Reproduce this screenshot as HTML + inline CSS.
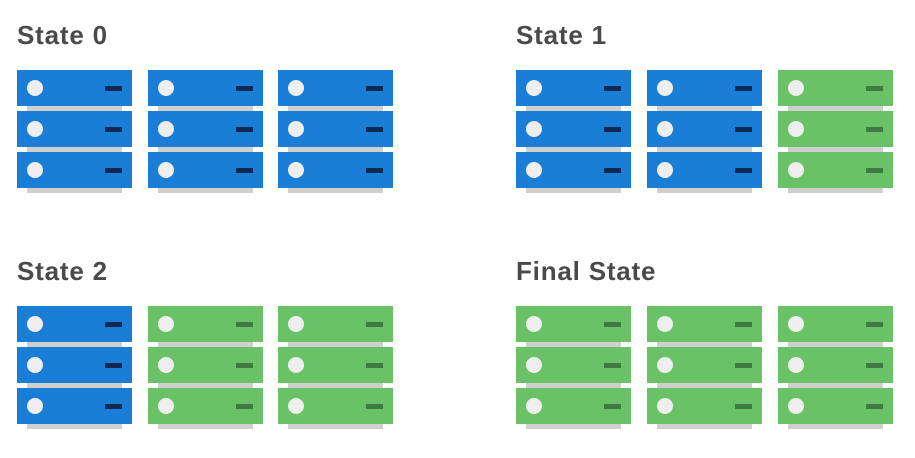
<!DOCTYPE html>
<html><head><meta charset="utf-8"><style>
body{margin:0;width:915px;height:458px;background:#fff;overflow:hidden;position:relative;font-family:"Liberation Sans",sans-serif}
.t{position:absolute;font-size:26px;font-weight:bold;color:#4a4a4a;letter-spacing:0.8px;line-height:30px}
.stack{position:absolute;width:115px;height:125px}
.sh{position:absolute;left:10px;width:95px;height:6px;background:#cfcfcf}
.u{position:absolute;left:0;width:115px;height:36px}
.u .c{position:absolute;left:10px;top:10px;width:16px;height:16px;border-radius:50%;background:#eee}
.u .d{position:absolute;left:88px;top:16px;width:17px;height:5px}
.b{background:#1a7dd6}.b .d{background:#0e2a52}
.g{background:#69c266}.g .d{background:#3e7a42}
</style></head><body>
<div class="t" style="left:17px;top:20px">State 0</div>
<div class="t" style="left:516px;top:20px">State 1</div>
<div class="t" style="left:17px;top:256px">State 2</div>
<div class="t" style="left:516px;top:256px">Final State</div>
<script>
const xs=[17,148,278,516,647,778];
const states=[
 {x0:0,y:70,cols:['b','b','b']},
 {x0:3,y:70,cols:['b','b','g']},
 {x0:0,y:306,cols:['b','g','g']},
 {x0:3,y:306,cols:['g','g','g']}
];
states.forEach((s,si)=>{
 s.cols.forEach((c,ci)=>{
  const st=document.createElement('div');
  st.className='stack';
  
  
  st.style.left=xs[s.x0+ci]+'px';st.style.top=s.y+'px';
  let h='';
  for(let r=0;r<3;r++){
   h+=`<div class="sh" style="top:${r*41+35}px"></div>`;
   h+=`<div class="u ${c}" style="top:${r*41}px"><div class="c"></div><div class="d"></div></div>`;
  }
  st.innerHTML=h;
  document.body.appendChild(st);
 });
});
</script>
</body></html>
